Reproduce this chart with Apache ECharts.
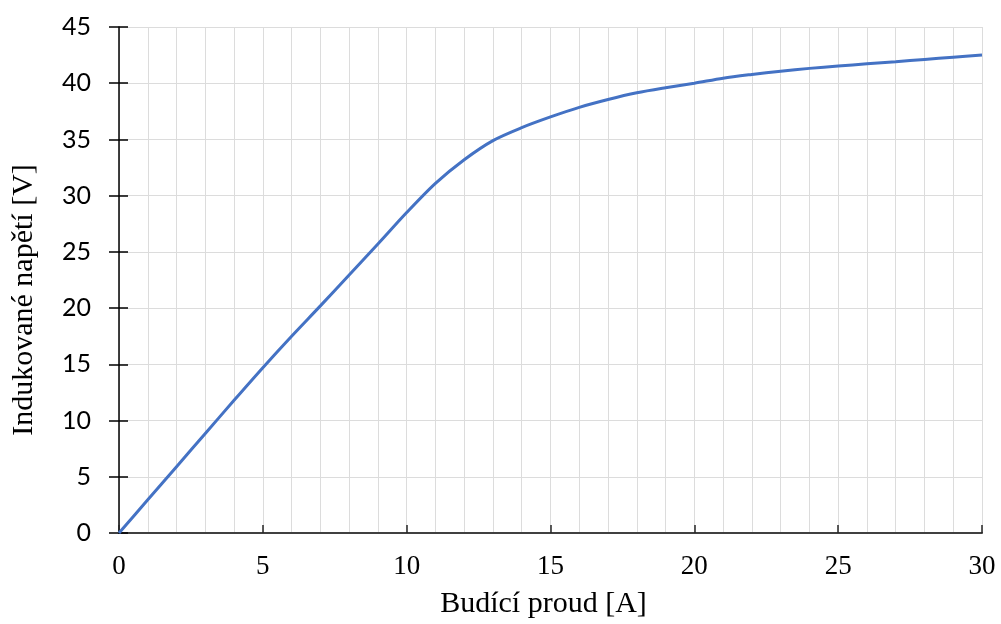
<!DOCTYPE html>
<html>
<head>
<meta charset="utf-8">
<script src="https://cdn.jsdelivr.net/npm/echarts@6/dist/echarts.min.js"></script>
<style>
html,body{margin:0;padding:0;background:#fff;}
#chart{width:1001px;height:624px;}
</style>
</head>
<body>
<div id="chart"></div>
<script>
// Excitation current [A]
const current = [0, 1, 2, 3, 4, 5, 6, 7, 8, 9, 10, 11, 12, 13, 14, 15, 16, 17, 18, 19, 20, 21, 22, 23, 24, 25, 26, 27, 28, 29, 30];
// Induced voltage [V]
const voltage = [0, 2.95, 5.9, 8.85, 11.8, 14.7, 17.5, 20.2, 22.95, 25.7, 28.5, 31.1, 33.2, 34.9, 36.05, 37.0, 37.85, 38.55, 39.15, 39.6, 40.0, 40.45, 40.78, 41.07, 41.32, 41.53, 41.73, 41.92, 42.12, 42.32, 42.5];
const xTicks = [0, 5, 10, 15, 20, 25, 30];
const yTicks = [0, 5, 10, 15, 20, 25, 30, 35, 40, 45];
const xTitle = 'Budící proud [A]';
const yTitle = 'Indukované napětí [V]';

const chart = echarts.init(document.getElementById('chart'), null, {renderer: 'canvas'});
const gridColor = '#dcdcdc';
chart.setOption({
  animation: false,
  grid: {left: 119, right: 19, top: 27, bottom: 91, containLabel: false},
  xAxis: {
    type: 'value',
    min: xTicks[0], max: xTicks[xTicks.length - 1], interval: 5,
    name: xTitle, nameLocation: 'middle', nameGap: 56,
    nameTextStyle: {fontFamily: 'Liberation Serif', fontSize: 30, color: '#000', padding: [0, 14, 0, 0]},
    axisLine: {show: true, lineStyle: {color: '#404040', width: 2}},
    axisTick: {show: true, inside: true, length: 8, lineStyle: {color: '#262626', width: 1.5}},
    axisLabel: {fontFamily: 'Liberation Serif', fontSize: 27, color: '#000', margin: 20},
    splitLine: {show: true, lineStyle: {color: gridColor, width: 1}},
    minorTick: {show: false, splitNumber: 5},
    minorSplitLine: {show: true, lineStyle: {color: gridColor, width: 1}}
  },
  yAxis: [{
    type: 'value',
    min: yTicks[0], max: yTicks[yTicks.length - 1], interval: 5,
    name: yTitle, nameLocation: 'middle', nameGap: 80, nameRotate: 90,
    nameTextStyle: {fontFamily: 'Liberation Serif', fontSize: 30, color: '#000', padding: [0, 40, 0, 0]},
    axisLine: {show: true, lineStyle: {color: '#000', width: 1.5}},
    axisTick: {show: true, inside: false, length: 10, lineStyle: {color: '#000', width: 1.5}},
    axisLabel: {fontFamily: 'Lato', fontSize: 25, color: '#000', margin: 28},
    splitLine: {show: true, lineStyle: {color: gridColor, width: 1}}
  }, {
    type: 'value', position: 'left',
    min: yTicks[0], max: yTicks[yTicks.length - 1], interval: 5,
    axisLine: {show: false},
    axisTick: {show: true, inside: true, length: 9, lineStyle: {color: '#000', width: 1.5}},
    axisLabel: {show: false},
    splitLine: {show: false}
  }],
  series: [{
    type: 'line',
    data: current.map((x, i) => [x, voltage[i]]),
    smooth: 0.3,
    symbol: 'none',
    lineStyle: {color: '#4472C4', width: 3},
    z: 5
  }]
});
</script>
</body>
</html>
